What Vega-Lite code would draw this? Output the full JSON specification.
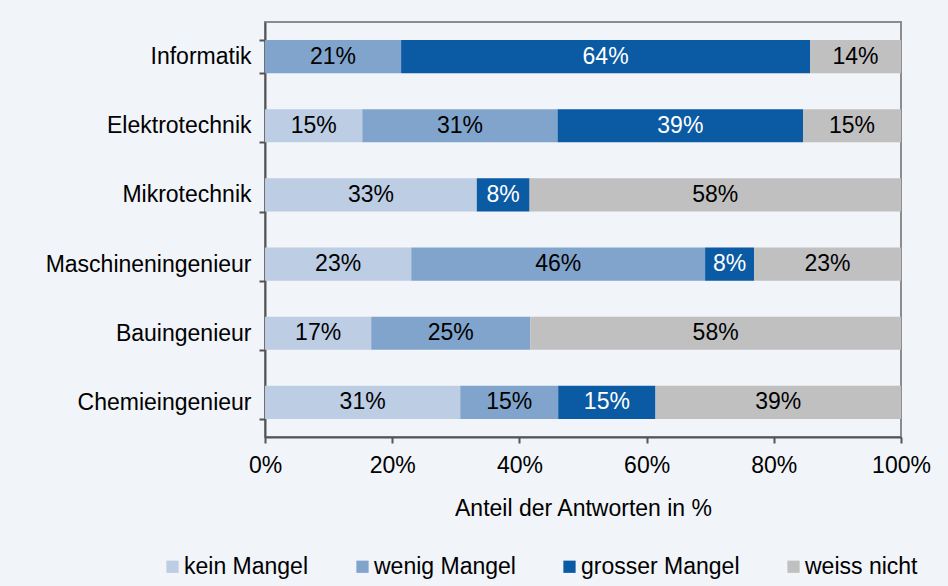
{
  "$schema": "https://vega.github.io/schema/vega-lite/v6.json",
  "width": 636,
  "height": 415,
  "autosize": "none",
  "padding": {"left": 265, "top": 22, "right": 47, "bottom": 149},
  "background": "#f1f4f9",
  "config": {
    "font": "Liberation Sans",
    "view": {"stroke": "#8c8c8c", "strokeWidth": 2, "fill": "#f1f4f9"}
  },
  "data": {
    "values": [
      {"fach": "Informatik", "kat": "wenig Mangel", "o": 2, "v": 0.214},
      {"fach": "Informatik", "kat": "grosser Mangel", "o": 3, "v": 0.643},
      {"fach": "Informatik", "kat": "weiss nicht", "o": 4, "v": 0.143},
      {"fach": "Elektrotechnik", "kat": "kein Mangel", "o": 1, "v": 0.153},
      {"fach": "Elektrotechnik", "kat": "wenig Mangel", "o": 2, "v": 0.307},
      {"fach": "Elektrotechnik", "kat": "grosser Mangel", "o": 3, "v": 0.386},
      {"fach": "Elektrotechnik", "kat": "weiss nicht", "o": 4, "v": 0.154},
      {"fach": "Mikrotechnik", "kat": "kein Mangel", "o": 1, "v": 0.333},
      {"fach": "Mikrotechnik", "kat": "grosser Mangel", "o": 3, "v": 0.083},
      {"fach": "Mikrotechnik", "kat": "weiss nicht", "o": 4, "v": 0.584},
      {"fach": "Maschineningenieur", "kat": "kein Mangel", "o": 1, "v": 0.23},
      {"fach": "Maschineningenieur", "kat": "wenig Mangel", "o": 2, "v": 0.462},
      {"fach": "Maschineningenieur", "kat": "grosser Mangel", "o": 3, "v": 0.077},
      {"fach": "Maschineningenieur", "kat": "weiss nicht", "o": 4, "v": 0.231},
      {"fach": "Bauingenieur", "kat": "kein Mangel", "o": 1, "v": 0.167},
      {"fach": "Bauingenieur", "kat": "wenig Mangel", "o": 2, "v": 0.25},
      {"fach": "Bauingenieur", "kat": "weiss nicht", "o": 4, "v": 0.583},
      {"fach": "Chemieingenieur", "kat": "kein Mangel", "o": 1, "v": 0.307},
      {"fach": "Chemieingenieur", "kat": "wenig Mangel", "o": 2, "v": 0.154},
      {"fach": "Chemieingenieur", "kat": "grosser Mangel", "o": 3, "v": 0.153},
      {"fach": "Chemieingenieur", "kat": "weiss nicht", "o": 4, "v": 0.386}
    ]
  },
  "encoding": {
    "y": {
      "field": "fach",
      "type": "nominal",
      "sort": ["Informatik", "Elektrotechnik", "Mikrotechnik", "Maschineningenieur", "Bauingenieur", "Chemieingenieur"],
      "scale": {"paddingInner": 0.52, "paddingOuter": 0.26},
      "axis": {
        "title": null,
        "labelFontSize": 23,
        "labelColor": "#000000",
        "labelPadding": 8,
        "labelLimit": 0,
        "tickBand": "extent",
        "tickSize": 6,
        "tickColor": "#555555",
        "tickWidth": 2,
        "domainColor": "#555555",
        "domainWidth": 2
      }
    },
    "x": {
      "field": "v",
      "type": "quantitative",
      "stack": "zero",
      "scale": {"domain": [0, 1], "nice": false},
      "axis": {
        "title": "Anteil der Antworten in %",
        "titleFontSize": 23,
        "titleFontWeight": "normal",
        "titleColor": "#000000",
        "titlePadding": 20,
        "format": ".0%",
        "values": [0, 0.2, 0.4, 0.6, 0.8, 1],
        "labelFontSize": 23,
        "labelColor": "#000000",
        "labelPadding": 11,
        "labelFlush": false,
        "grid": false,
        "tickSize": 6,
        "tickColor": "#555555",
        "tickWidth": 2,
        "domainColor": "#555555",
        "domainWidth": 2
      }
    },
    "order": {"field": "o", "type": "quantitative"}
  },
  "layer": [
    {
      "mark": {"type": "bar"},
      "encoding": {
        "color": {
          "field": "kat",
          "type": "nominal",
          "scale": {
            "domain": ["kein Mangel", "wenig Mangel", "grosser Mangel", "weiss nicht"],
            "range": ["#bccde4", "#80a4cc", "#0b5aa4", "#c0c0c0"]
          },
          "legend": {
            "title": null,
            "orient": "none",
            "direction": "horizontal",
            "legendX": -104,
            "legendY": 533,
            "symbolType": "square",
            "symbolSize": 150,
            "symbolStrokeWidth": 0,
            "labelFontSize": 23,
            "labelColor": "#000000",
            "labelOffset": 0,
            "labelLimit": 0,
            "columnPadding": 42
          }
        }
      }
    },
    {
      "mark": {"type": "text", "fontSize": 23, "baseline": "middle", "align": "center"},
      "encoding": {
        "x": {"field": "v", "type": "quantitative", "stack": "zero", "bandPosition": 0.5},
        "text": {"field": "v", "type": "quantitative", "format": ".0%"},
        "color": {
          "condition": {"test": "datum.kat === 'grosser Mangel'", "value": "#ffffff"},
          "value": "#000000"
        }
      }
    }
  ]
}
